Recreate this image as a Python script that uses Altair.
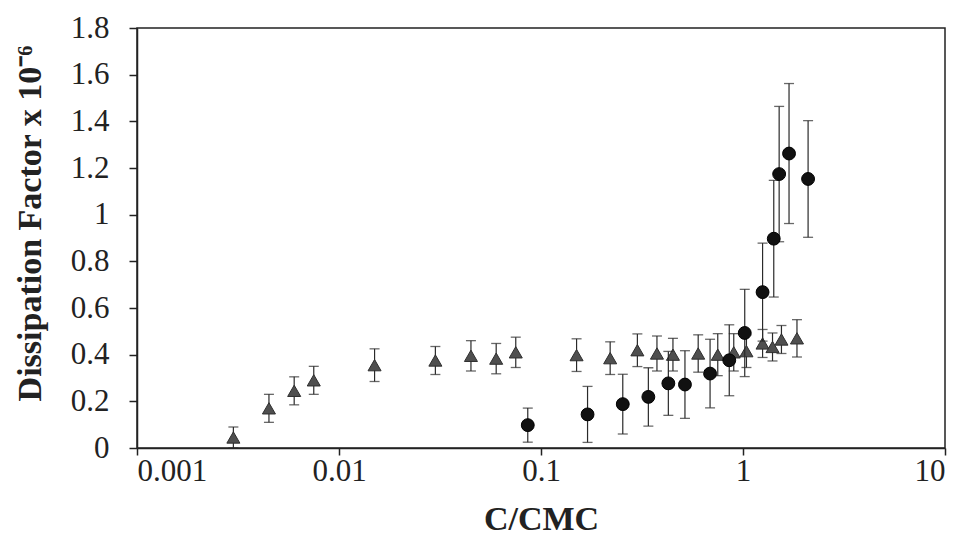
import altair as alt
import pandas as pd

# Triangles series (gray)
tri_x = [0.003, 0.0045, 0.006, 0.0075, 0.015, 0.03, 0.045, 0.06, 0.075, 0.15, 0.22,
         0.30, 0.375, 0.45, 0.60, 0.75, 0.90, 1.04, 1.25, 1.40, 1.55, 1.85]
tri_y = [0.045, 0.17, 0.245, 0.29, 0.355, 0.375, 0.395, 0.383, 0.41, 0.398, 0.385,
         0.419, 0.405, 0.40, 0.405, 0.40, 0.41, 0.415, 0.448, 0.433, 0.465, 0.47]
tri_err = [0.045, 0.06, 0.06, 0.06, 0.07, 0.06, 0.065, 0.065, 0.065, 0.07, 0.07,
           0.07, 0.075, 0.07, 0.08, 0.09, 0.08, 0.07, 0.06, 0.06, 0.06, 0.08]

# Circles series (black)
circ_x = [0.086, 0.17, 0.254, 0.34, 0.427, 0.516, 0.687, 0.855, 1.02, 1.25, 1.42, 1.51, 1.69, 2.10]
circ_y = [0.098, 0.144, 0.188, 0.219, 0.277, 0.272, 0.319, 0.376, 0.493, 0.668, 0.897, 1.174, 1.262, 1.153]
circ_err = [0.073, 0.12, 0.128, 0.125, 0.137, 0.145, 0.147, 0.152, 0.187, 0.21, 0.25, 0.29, 0.30, 0.25]

x_ticks = [0.001, 0.01, 0.1, 1, 10]
y_ticks = [0, 0.2, 0.4, 0.6, 0.8, 1.0, 1.2, 1.4, 1.6, 1.8]

FONT = "Liberation Serif"

tri = pd.DataFrame({"x": tri_x, "y": tri_y, "e": tri_err})
tri["lo"] = (tri["y"] - tri["e"]).clip(lower=0)
tri["hi"] = tri["y"] + tri["e"]
circ = pd.DataFrame({"x": circ_x, "y": circ_y, "e": circ_err})
circ["lo"] = (circ["y"] - circ["e"]).clip(lower=0)
circ["hi"] = circ["y"] + circ["e"]

xs = alt.Scale(type="log", domain=[0.001, 10])
ys = alt.Scale(domain=[0, 1.8], nice=False)

x_axis = alt.Axis(values=x_ticks, labelExpr="format(datum.value, '~g')", title="C/CMC",
                  grid=False, tickSize=7, labelPadding=1, titleX=404, titleY=81,
                  titleBaseline="alphabetic", titleAlign="center")
y_axis = alt.Axis(values=y_ticks, labelExpr="format(datum.value, '~g')",
                  title="Dissipation Factor x 10⁻⁶", grid=False, tickSize=8, labelPadding=20,
                  titleX=-107, titleY=195, titleAngle=-90, titleBaseline="middle",
                  titleAlign="center")

X = alt.X("x:Q", scale=xs, axis=x_axis)
Y = alt.Y("y:Q", scale=ys, axis=y_axis)


def layers(df, shape, fill, stroke, size, cap):
    bars = alt.Chart(df).mark_rule(color="#2a2a2a", strokeWidth=1.2).encode(
        x=alt.X("x:Q", scale=xs), y=alt.Y("lo:Q", scale=ys), y2="hi:Q")
    cap_lo = alt.Chart(df).mark_tick(orient="horizontal", size=cap, thickness=1.3,
                                     color="#2a2a2a").encode(
        x=alt.X("x:Q", scale=xs), y=alt.Y("lo:Q", scale=ys))
    cap_hi = alt.Chart(df).mark_tick(orient="horizontal", size=cap, thickness=1.3,
                                     color="#2a2a2a").encode(
        x=alt.X("x:Q", scale=xs), y=alt.Y("hi:Q", scale=ys))
    pts = alt.Chart(df).mark_point(shape=shape, filled=True, fill=fill, stroke=stroke,
                                   strokeWidth=1, size=size, opacity=1).encode(x=X, y=Y)
    return [bars, cap_lo, cap_hi, pts]


chart = alt.layer(
    *layers(tri, "triangle-up", "#4f4f4f", "#2e2e2e", 170, 10),
    *layers(circ, "circle", "#111111", "#000000", 165, 10),
).properties(
    width=808, height=420,
    autosize=alt.AutoSizeParams(type="none"),
    padding={"left": 129, "top": 20, "right": 7, "bottom": 88},
).configure_axis(
    labelFont=FONT, labelFontSize=31, labelColor="#222",
    titleFont=FONT, titleFontSize=34, titleFontWeight="bold", titleColor="#222",
    domainColor="#222", domainWidth=1.5, tickColor="#222", tickWidth=1.5,
).configure_view(stroke="#222", strokeWidth=1.5)

chart.save("out.html", embed_options={"renderer": "svg", "actions": False})
